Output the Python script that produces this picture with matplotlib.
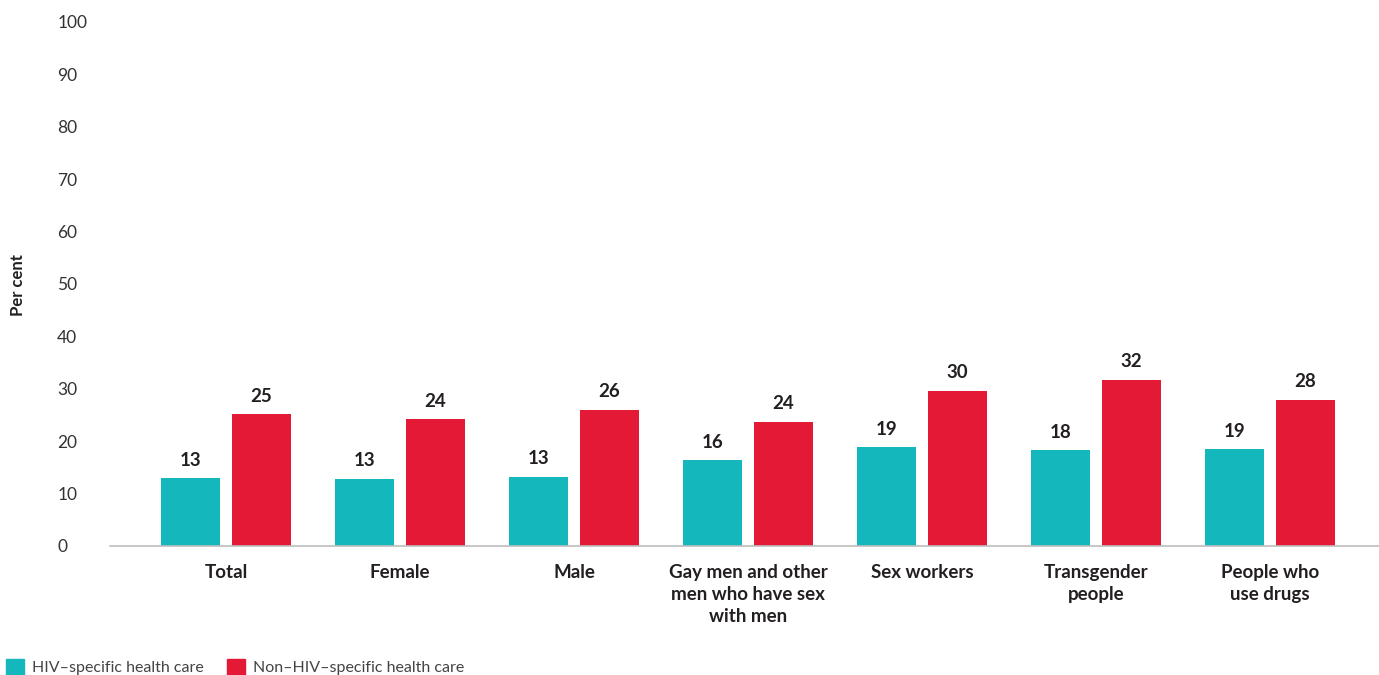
import numpy as np
import matplotlib.pyplot as plt
from matplotlib.patches import Patch

plt.rcParams['font.family'] = ['Lato', 'DejaVu Sans']

# données
categories = ["Total", "Female", "Male", "Gay men and other\nmen who have sex\nwith men",
              "Sex workers", "Transgender\npeople", "People who\nuse drugs"]
hiv_specific = [13, 13, 13, 16, 19, 18, 19]
non_hiv_specific = [25, 24, 26, 24, 30, 32, 28]
hiv_display = [12.9, 12.8, 13.2, 16.4, 18.9, 18.3, 18.5]
non_hiv_display = [25.2, 24.2, 26.0, 23.7, 29.6, 31.7, 27.9]
series_names = ["HIV–specific health care", "Non–HIV–specific health care"]
yticks = list(range(0, 101, 10))

teal = '#14B7BB'
red = '#E31936'

fig = plt.figure(figsize=(13.79, 6.75), dpi=100)
W, H = 1379, 675
ax = fig.add_axes([110 / W, 1 - 546 / H, (1379 - 110) / W, (546 - 22) / H])

x = np.arange(len(categories))
w = 0.34
off = 0.203
b1 = ax.bar(x - off, hiv_display, w, color=teal)
b2 = ax.bar(x + off, non_hiv_display, w, color=red)

for bars, vals in ((b1, hiv_specific), (b2, non_hiv_specific)):
    for b, v in zip(bars, vals):
        ax.text(b.get_x() + b.get_width() / 2, b.get_height() + 1.8, str(v),
                ha='center', va='bottom', fontsize=13.5, fontweight='bold', color='#231F20')

ax.set_xlim(-0.667, 6.626)
ax.set_ylim(0, 100)
ax.set_yticks(yticks)
ax.set_yticklabels([str(t) for t in yticks], fontsize=12.5, color='#333333', ha='left')
ax.tick_params(axis='y', length=0, pad=38)
ax.set_xticks(x)
ax.set_xticklabels(categories, fontsize=13.5, fontweight='bold', color='#231F20', linespacing=1.35)
ax.tick_params(axis='x', length=0, pad=13)

for s in ('top', 'right', 'left'):
    ax.spines[s].set_visible(False)
ax.spines['bottom'].set_color('#BDBDBD')
ax.spines['bottom'].set_linewidth(1.2)

fig.text(18 / W, 1 - 285 / H, "Per cent", rotation=90, ha='center', va='center',
         fontsize=12, fontweight='bold', color='#231F20')

handles = [Patch(color=teal), Patch(color=red)]
fig.legend(handles, series_names, loc='lower left', bbox_to_anchor=(-0.006, -0.022), ncol=2,
           frameon=False, fontsize=11.5, handlelength=1.1, handleheight=1.1,
           handletextpad=0.5, columnspacing=1.5, labelcolor='#444444')

plt.savefig('out.png', dpi=100)
